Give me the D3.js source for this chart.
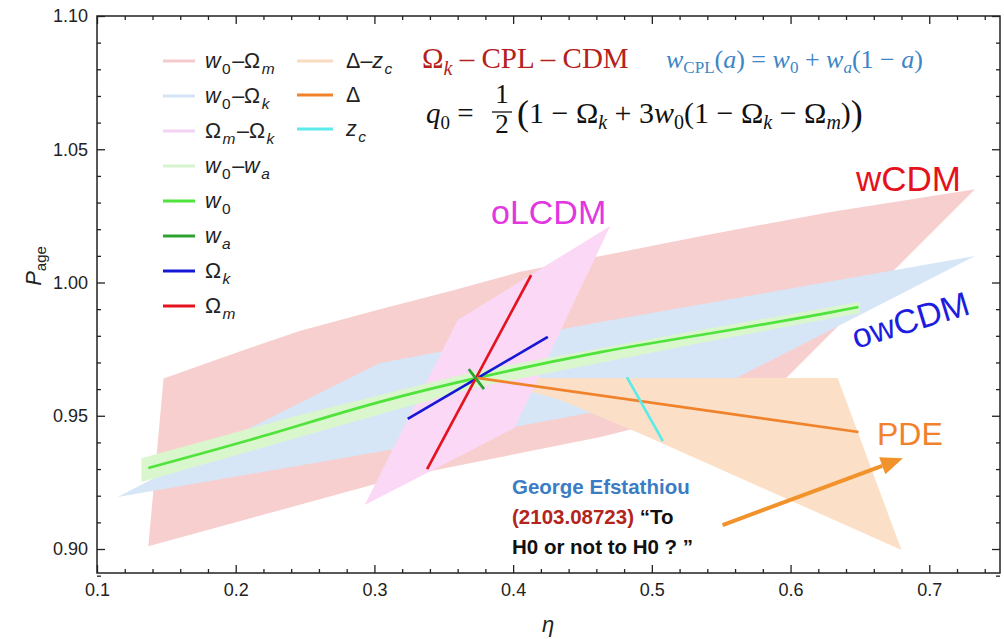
<!DOCTYPE html>
<html>
<head>
<meta charset="utf-8">
<title>P_age vs eta</title>
<script src="https://d3js.org/d3.v7.min.js"></script>
<style>
  html, body { margin: 0; background: #fff; overflow: hidden; }
  svg { display: block; }
  text { font-family: "Liberation Sans", Arial, sans-serif; }
  .serif { font-family: "Liberation Serif", "Times New Roman", serif; }
</style>
</head>
<body>
<div id="chart"></div>
<script>
// axis ticks
const xTicks = [0.1, 0.2, 0.3, 0.4, 0.5, 0.6, 0.7];
const xTickLabels = ["0.1", "0.2", "0.3", "0.4", "0.5", "0.6", "0.7"];
const yTicks = [0.90, 0.95, 1.00, 1.05, 1.10];
const yTickLabels = ["0.90", "0.95", "1.00", "1.05", "1.10"];

// shaded regions, [eta, P_age]
const regionW0Om = [[0.137,0.901],[0.148,0.964],[0.210,0.9754],[0.246,0.9818],[0.304,0.990],[0.355,0.9968],[0.405,1.004],[0.463,1.0099],[0.535,1.0174],[0.629,1.0265],[0.733,1.035],[0.585,0.958],[0.463,0.942],[0.319,0.927]];
const regionW0Ok = [[0.115,0.9195],[0.210,0.9454],[0.304,0.9698],[0.463,0.9852],[0.733,1.0099],[0.650,0.9878],[0.544,0.9597],[0.319,0.9379]];
const regionDZc  = [[0.374,0.9642],[0.634,0.9642],[0.680,0.8996],[0.494,0.9428],[0.434,0.9559],[0.398,0.9612]];
const regionOmOk = [[0.470,1.0212],[0.360,0.9859],[0.293,0.9165],[0.401,0.9454]];
const regionW0WaTop = [[0.132,0.9341],[0.246,0.9503],[0.374,0.9668],[0.535,0.9822],[0.650,0.9927]];
const regionW0WaBot = [[0.650,0.9886],[0.535,0.9773],[0.374,0.9608],[0.246,0.9420],[0.132,0.9251]];

// one-parameter lines
const lineW0 = [[0.137,0.9304],[0.210,0.9409],[0.304,0.9552],[0.374,0.9642],[0.463,0.9739],[0.535,0.9803],[0.607,0.9867],[0.649,0.9908]];
const lineWa = [[0.368,0.9675],[0.379,0.9600]];
const lineOk = [[0.324,0.9488],[0.425,0.9796]];
const lineOm = [[0.338,0.9300],[0.413,1.0028]];
const lineDelta = [[0.374,0.9642],[0.649,0.9439]];
const lineZc = [[0.482,0.9645],[0.508,0.9405]];
const arrowPts = [[0.551,0.9090],[0.681,0.9341]];

// legend
const legendLeft = ["w_0–Ω_m", "w_0–Ω_k", "Ω_m–Ω_k", "w_0–w_a", "w_0", "w_a", "Ω_k", "Ω_m"];
const legendLeftColors = ["#f5c8cc", "#d3e3f4", "#f3d3f1", "#d6f3cf", "#4fe33c", "#2fa32f", "#1717d6", "#e5121d"];
const legendRight = ["Δ–z_c", "Δ", "z_c"];
const legendRightColors = ["#f9dcc0", "#f0822c", "#5ceaea"];

const W = 1004, H = 639;
const svg = d3.select('#chart').append('svg').attr('width', W).attr('height', H);
svg.append('rect').attr('width', W).attr('height', H).attr('fill', '#fff');

const x = d3.scaleLinear().domain([0.1, 0.751]).range([97, 1000]);
const y = d3.scaleLinear().domain([0.891, 1.10]).range([573, 16]);

const poly = d3.line().x(d => x(d[0])).y(d => y(d[1])).curve(d3.curveLinearClosed);
const curve = d3.line().x(d => x(d[0])).y(d => y(d[1])).curve(d3.curveCatmullRom);

const plot = svg.append('g');
plot.append('path').datum(regionW0Om).attr('d', poly).attr('fill', '#f7cfcf');
plot.append('path').datum(regionW0Ok).attr('d', poly).attr('fill', '#d6e6f6');
plot.append('path').datum(regionDZc).attr('d', poly).attr('fill', '#fbe0c7');
plot.append('path').datum(regionOmOk).attr('d', poly).attr('fill', '#fad8f6');
plot.append('path').datum(regionW0WaTop.concat(regionW0WaBot)).attr('d', poly).attr('fill', '#daf6cd');

const lines = [
  [lineW0, '#4fe33c'], [lineOk, '#1717d6'], [lineOm, '#e5121d'],
  [lineDelta, '#f0822c'], [lineZc, '#5ceaea'], [lineWa, '#2fa32f']
];
lines.forEach(([pts, c]) => {
  plot.append('path').datum(pts).attr('d', curve)
    .attr('fill', 'none').attr('stroke', c).attr('stroke-width', 2.7);
});

// axes, ticks pointing inward
const xMinor = d3.range(0.12, 0.751, 0.02).filter(v => Math.abs(v * 10 - Math.round(v * 10)) > 0.01);
const yMinor = d3.range(0.891, 1.10, 0.01).map(v => Math.round(v * 100) / 100).filter(v => Math.abs(v * 20 - Math.round(v * 20)) > 0.01);

function styleAxis(g) {
  g.select('.domain').remove();
  g.selectAll('line').attr('stroke', '#222').attr('stroke-width', 1.3);
  g.selectAll('text').attr('fill', '#222').attr('font-size', 18)
    .attr('font-family', '"Liberation Sans", Arial, sans-serif');
}
const none = () => '';
svg.append('g').attr('transform', `translate(0,573)`)
  .call(d3.axisBottom(x).tickValues(xTicks).tickSize(-8).tickSizeOuter(0).tickPadding(10).tickFormat((d, i) => xTickLabels[i])).call(styleAxis);
svg.append('g').attr('transform', `translate(0,573)`)
  .call(d3.axisBottom(x).tickValues(xMinor).tickSize(-4).tickSizeOuter(0).tickFormat(none)).call(styleAxis);
svg.append('g').attr('transform', `translate(0,16)`)
  .call(d3.axisTop(x).tickValues(xTicks).tickSize(-8).tickSizeOuter(0).tickFormat(none)).call(styleAxis);
svg.append('g').attr('transform', `translate(0,16)`)
  .call(d3.axisTop(x).tickValues(xMinor).tickSize(-4).tickSizeOuter(0).tickFormat(none)).call(styleAxis);
svg.append('g').attr('transform', `translate(97,0)`)
  .call(d3.axisLeft(y).tickValues(yTicks).tickSize(-8).tickSizeOuter(0).tickPadding(9).tickFormat((d, i) => yTickLabels[i])).call(styleAxis);
svg.append('g').attr('transform', `translate(97,0)`)
  .call(d3.axisLeft(y).tickValues(yMinor).tickSize(-4).tickSizeOuter(0).tickFormat(none)).call(styleAxis);
svg.append('g').attr('transform', `translate(1000,0)`)
  .call(d3.axisRight(y).tickValues(yTicks).tickSize(-8).tickSizeOuter(0).tickFormat(none)).call(styleAxis);
svg.append('g').attr('transform', `translate(1000,0)`)
  .call(d3.axisRight(y).tickValues(yMinor).tickSize(-4).tickSizeOuter(0).tickFormat(none)).call(styleAxis);

svg.append('rect').attr('x', 97).attr('y', 16).attr('width', 903).attr('height', 557)
  .attr('fill', 'none').attr('stroke', '#222').attr('stroke-width', 1.5);

// axis labels
const ylab = svg.append('text').attr('transform', 'translate(41,266) rotate(-90)')
  .attr('text-anchor', 'middle').attr('font-size', 22).attr('fill', '#222');
ylab.append('tspan').text('P').attr('font-style', 'italic');
ylab.append('tspan').text('age').attr('font-size', 15).attr('dy', 5);
svg.append('text').attr('x', 548).attr('y', 632).attr('text-anchor', 'middle')
  .attr('font-size', 22).attr('font-style', 'italic').attr('fill', '#222').text('η');

// math-ish label: "_" puts the next char in a subscript, latin letters italic
function mathLabel(sel, str, fs) {
  const parts = [];
  for (let i = 0; i < str.length; i++) {
    if (str[i] === '_') { parts.push({ c: str[i + 1], sub: true }); i++; }
    else parts.push({ c: str[i], sub: false });
  }
  let down = false;
  parts.forEach(p => {
    const t = sel.append('tspan').text(p.c)
      .attr('font-style', /[a-z]/.test(p.c) ? 'italic' : 'normal')
      .attr('font-size', p.sub ? fs * 0.72 : fs);
    if (p.sub && !down) { t.attr('dy', fs * 0.28).attr('dx', 1.5); down = true; }
    else if (!p.sub && down) { t.attr('dy', -fs * 0.28).attr('dx', 1.5); down = false; }
  });
}

const leg = svg.append('g');
legendLeft.forEach((lab, i) => {
  const yy = 61 + i * 35;
  leg.append('line').attr('x1', 163).attr('x2', 195).attr('y1', yy).attr('y2', yy)
    .attr('stroke', legendLeftColors[i]).attr('stroke-width', 3);
  mathLabel(leg.append('text').attr('x', 205).attr('y', yy + 7).attr('fill', '#222'), lab, 21.5);
});
legendRight.forEach((lab, i) => {
  const yy = 61 + i * 34;
  leg.append('line').attr('x1', 297).attr('x2', 333).attr('y1', yy).attr('y2', yy)
    .attr('stroke', legendRightColors[i]).attr('stroke-width', 3);
  mathLabel(leg.append('text').attr('x', 346).attr('y', yy + 7).attr('fill', '#222'), lab, 21.5);
});

// formulas
const f1 = svg.append('text').attr('class', 'serif').attr('x', 422).attr('y', 68)
  .attr('font-size', 29).attr('fill', '#b5211b');
f1.append('tspan').text('Ω');
f1.append('tspan').text('k').attr('font-style', 'italic').attr('font-size', 20).attr('dy', 7);
f1.append('tspan').text(' – CPL – CDM').attr('dy', -7);

const f2 = svg.append('text').attr('class', 'serif').attr('x', 666).attr('y', 68)
  .attr('font-size', 26).attr('fill', '#3d86c6');
f2.append('tspan').text('w').attr('font-style', 'italic');
f2.append('tspan').text('CPL').attr('font-size', 17).attr('dy', 5);
f2.append('tspan').text('(').attr('dy', -5);
f2.append('tspan').text('a').attr('font-style', 'italic');
f2.append('tspan').text(') = ');
f2.append('tspan').text('w').attr('font-style', 'italic');
f2.append('tspan').text('0').attr('font-size', 17).attr('dy', 5);
f2.append('tspan').text(' + ').attr('dy', -5);
f2.append('tspan').text('w').attr('font-style', 'italic');
f2.append('tspan').text('a').attr('font-style', 'italic').attr('font-size', 17).attr('dy', 5);
f2.append('tspan').text('(1 − ').attr('dy', -5);
f2.append('tspan').text('a').attr('font-style', 'italic');
f2.append('tspan').text(')');

const f3 = svg.append('text').attr('class', 'serif').attr('x', 426).attr('y', 123)
  .attr('font-size', 29).attr('fill', '#111');
f3.append('tspan').text('q').attr('font-style', 'italic');
f3.append('tspan').text('0').attr('font-size', 19).attr('dy', 6);
f3.append('tspan').text(' =').attr('dy', -6);
svg.append('text').attr('class', 'serif').attr('x', 502).attr('y', 103).attr('text-anchor', 'middle')
  .attr('font-size', 27).attr('fill', '#111').text('1');
svg.append('line').attr('x1', 492).attr('x2', 512).attr('y1', 112).attr('y2', 112).attr('stroke', '#111').attr('stroke-width', 1.3);
svg.append('text').attr('class', 'serif').attr('x', 502).attr('y', 133).attr('text-anchor', 'middle')
  .attr('font-size', 27).attr('fill', '#111').text('2');
const f4 = svg.append('text').attr('class', 'serif').attr('x', 517).attr('y', 123)
  .attr('font-size', 30).attr('fill', '#111');
f4.append('tspan').text('(').attr('font-size', 36).attr('dy', 2);
f4.append('tspan').text('1 − Ω').attr('dy', -2);
f4.append('tspan').text('k').attr('font-style', 'italic').attr('font-size', 20).attr('dy', 6);
f4.append('tspan').text(' + 3').attr('dy', -6);
f4.append('tspan').text('w').attr('font-style', 'italic');
f4.append('tspan').text('0').attr('font-size', 20).attr('dy', 6);
f4.append('tspan').text('(1 − Ω').attr('dy', -6);
f4.append('tspan').text('k').attr('font-style', 'italic').attr('font-size', 20).attr('dy', 6);
f4.append('tspan').text(' − Ω').attr('dy', -6);
f4.append('tspan').text('m').attr('font-style', 'italic').attr('font-size', 20).attr('dy', 6);
f4.append('tspan').text(')').attr('dy', -6);
f4.append('tspan').text(')').attr('font-size', 36).attr('dy', 2);

// model names
svg.append('text').attr('x', 856).attr('y', 191).attr('font-size', 35).attr('fill', '#e5121d').text('wCDM');
svg.append('text').attr('x', 491).attr('y', 224).attr('font-size', 34).attr('fill', '#e236e0').text('oLCDM');
svg.append('text').attr('transform', 'translate(856,349) rotate(-17)').attr('font-size', 34).attr('fill', '#1d1de0').text('owCDM');
svg.append('text').attr('x', 877).attr('y', 445).attr('font-size', 32).attr('fill', '#f0822c').text('PDE');

// note + arrow
const note = svg.append('g').attr('font-size', 20.5).attr('font-weight', 'bold');
note.append('text').attr('x', 512).attr('y', 494).attr('fill', '#3b7dc4').text('George Efstathiou');
const n2 = note.append('text').attr('x', 512).attr('y', 524);
n2.append('tspan').text('(2103.08723)').attr('fill', '#b3241c');
n2.append('tspan').text(' “To').attr('fill', '#111');
note.append('text').attr('x', 512).attr('y', 554).attr('fill', '#111').text('H0 or not to H0 ? ”');

const a0 = [x(arrowPts[0][0]), y(arrowPts[0][1])], a1 = [x(arrowPts[1][0]), y(arrowPts[1][1])];
const ang = Math.atan2(a1[1] - a0[1], a1[0] - a0[0]);
const headLen = 22, headW = 9;
const base = [a1[0] - headLen * Math.cos(ang), a1[1] - headLen * Math.sin(ang)];
svg.append('line').attr('x1', a0[0]).attr('y1', a0[1]).attr('x2', base[0]).attr('y2', base[1])
  .attr('stroke', '#f2922a').attr('stroke-width', 4);
svg.append('path').attr('fill', '#f2922a').attr('d', d3.line()([
  a1,
  [base[0] + headW * Math.sin(ang), base[1] - headW * Math.cos(ang)],
  [base[0] - headW * Math.sin(ang), base[1] + headW * Math.cos(ang)]
]) + 'Z');
</script>
</body>
</html>
